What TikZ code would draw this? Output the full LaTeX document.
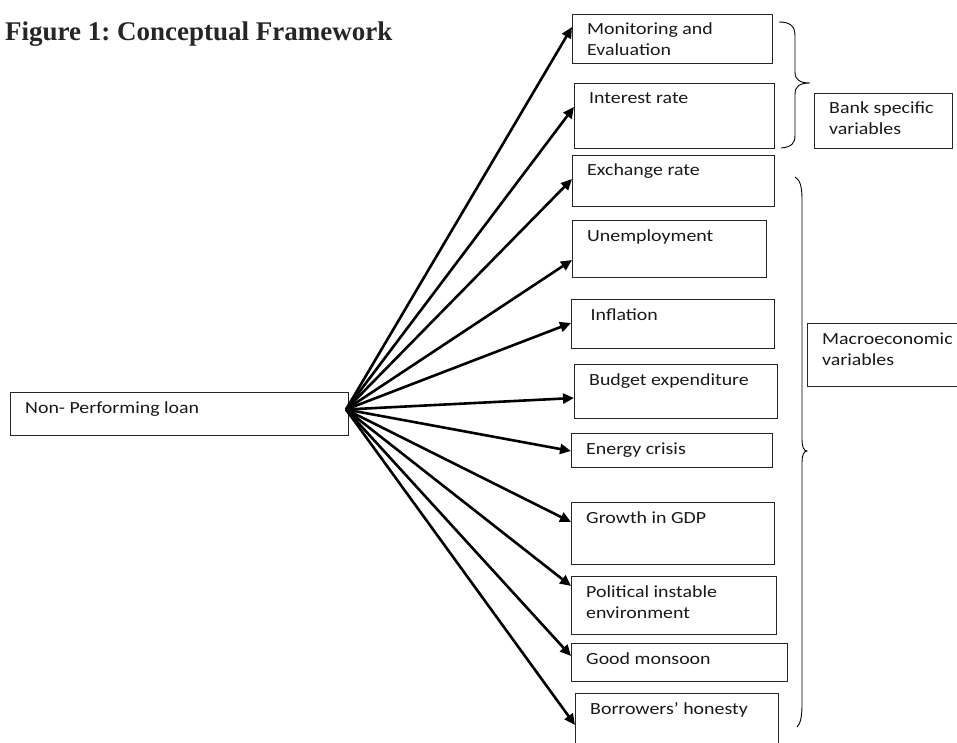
\documentclass[tikz,border=0pt]{standalone}
\usepackage{fontspec}
\setmainfont{Carlito}[FakeStretch=1.17]
\newfontfamily\titlefont{Liberation Serif}
\usetikzlibrary{arrows.meta}
\frenchspacing
\newcommand\twol[2]{\vtop{\hbox{#1}\hbox{#2}}}
\newcommand\mkbox[6]{%
  \node[boxsty, minimum width={(#4-#2)*1pt}, minimum height={(#5-#3)*1pt}] (#1) at (#2,#3) {};
  \node[txt] (#1t) at ([xshift=15pt,yshift=-21pt]#1.north west) {#6};}
\begin{document}
\begin{tikzpicture}[x=1pt,y=-1pt,
  boxsty/.style={draw=black!85, line width=0.9pt, anchor=north west, inner sep=0pt, outer sep=0pt},
  txt/.style={anchor=base west, inner sep=0pt, font=\fontsize{17}{21}\selectfont, text=black!90},
  arr/.style={line width=2.6pt, -{Triangle[length=11pt,width=10pt]}},
  bracesty/.style={line width=0.9pt}]
\useasboundingbox (0,0) rectangle (957,743);
\fill[white] (0,0) rectangle (957,743);
\node[anchor=base west, inner sep=0pt, text=black!85, font=\titlefont\bfseries\fontsize{27}{32}\selectfont] (title) at (5,41) {Figure 1: Conceptual Framework};

\mkbox{npl}{10}{392}{348}{435}{Non- Performing loan}
\mkbox{mon}{572}{14}{772}{63}{\twol{Monitoring and}{Evaluation}}
\mkbox{int}{574}{83}{774}{148}{Interest rate}
\mkbox{exc}{572}{155}{774}{206}{Exchange rate}
\mkbox{une}{572}{220}{766}{277}{Unemployment}
\mkbox{inf}{571}{299}{774}{348}{\ Inflation}
\mkbox{bud}{574}{364}{777}{418}{Budget expenditure}
\mkbox{ene}{571}{433}{772}{467}{Energy crisis}
\mkbox{gro}{571}{502}{774}{564}{Growth in GDP}
\mkbox{pol}{571}{576}{776}{634}{\twol{Political instable}{environment}}
\mkbox{goo}{571}{643}{787}{681}{Good monsoon}
\mkbox{bor}{575}{693}{778}{752}{Borrowers’ honesty}
\mkbox{bank}{814}{93}{952}{148}{\twol{Bank specific}{variables}}
\mkbox{mac}{807}{323}{960}{386}{\twol{Macroeconomic}{variables}}

\coordinate (o) at ([xshift=-2pt,yshift=4pt]npl.east);
\draw[arr] (o) -- ([yshift=-13pt]mon.north west);
\draw[arr] (o) -- ([yshift=-24pt]int.north west);
\draw[arr] (o) -- ([yshift=-24pt]exc.north west);
\draw[arr] (o) -- ([yshift=-40pt]une.north west);
\draw[arr] (o) -- ([yshift=-24pt]inf.north west);
\draw[arr] (o) -- ([yshift=-34pt]bud.north west);
\draw[arr] (o) -- ([yshift=-18pt]ene.north west);
\draw[arr] (o) -- ([yshift=-20pt]gro.north west);
\draw[arr] (o) -- ([yshift=-10pt]pol.north west);
\draw[arr] (o) -- ([yshift=-13pt]goo.north west);
\draw[arr] (o) -- ([yshift=-32pt]bor.north west);

\draw[bracesty] (779,22) .. controls (790,22) and (795,26) .. (795,36) -- (795,72)
  .. controls (795,80) and (800,83) .. (810,83)
  .. controls (800,83) and (795,86) .. (795,94) -- (795,135)
  .. controls (795,143) and (792,147) .. (781,148);
\draw[bracesty] (795,177) .. controls (800,180) and (802,186) .. (802,200) -- (802,440)
  .. controls (802,447) and (804,451) .. (807,451)
  .. controls (804,451) and (802,455) .. (802,462) -- (802,705)
  .. controls (802,718) and (800,724) .. (797,727);
\end{tikzpicture}
\end{document}
